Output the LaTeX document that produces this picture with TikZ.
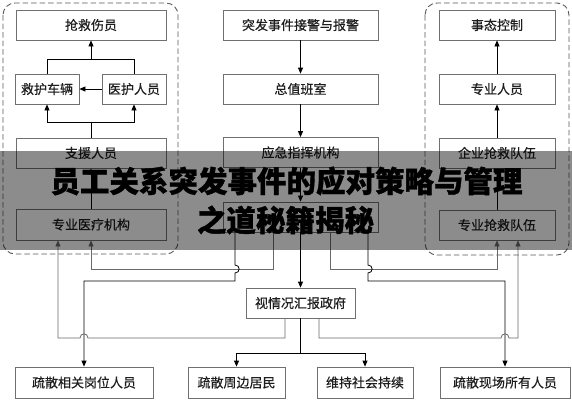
\documentclass[tikz,border=0pt]{standalone}
\usepackage{fontspec}
\setmainfont{Noto Sans CJK SC}
\newfontfamily\titlefont{Noto Sans CJK SC}[BoldFeatures={FakeBold=1.2}]
\newfontfamily\boxfont{Noto Sans CJK SC}[FakeBold=0.4]
\usetikzlibrary{arrows.meta}
\definecolor{boxline}{HTML}{707070}
\definecolor{grayline}{HTML}{6A6A6A}
\definecolor{boxtext}{HTML}{1E1E1E}
\definecolor{frameline}{HTML}{5A5A5A}
\begin{document}
\begin{tikzpicture}[x=1pt,y=-1pt,
  box/.style={draw=boxline, line width=0.8pt, fill=white, inner sep=0pt,
    minimum height=30pt, text=boxtext, font=\boxfont\fontsize{13}{14}\selectfont},
  frame/.style={draw=frameline, line width=0.9pt, dash pattern=on 5.5pt off 3pt, rounded corners=12pt},
  dl/.style={draw=black, line width=0.8pt},
  gl/.style={draw=grayline, line width=0.8pt},
  arr/.style={-{Triangle[length=6pt,width=5pt]}},
  ttl/.style={text=black, font=\titlefont\bfseries\fontsize{29.5}{31}\selectfont, inner sep=0pt}
]
\useasboundingbox (0,0) rectangle (572,400);
\fill[white] (0,0) rectangle (572,400);

% dashed frames
\draw[frame] (3,3) rectangle (178,254);
\draw[frame] (425,3) rectangle (569,255);

% left group
\node[box, minimum width=150pt] (qj) at (91,25) {抢救伤员};
\node[box, minimum width=64pt] (jhcl) at (47,89) {救护车辆};
\node[box, minimum width=64pt] (yhry) at (134,89) {医护人员};
\node[box, minimum width=150pt] (zyry) at (91,153) {支援人员};
\node[box, minimum width=150pt, minimum height=31pt] (zyyl) at (91,224.5) {专业医疗机构};

% center column
\node[box, minimum width=155pt] (tf) at (300.5,25) {突发事件接警与报警};
\node[box, minimum width=155pt] (zzb) at (300.5,89) {总值班室};
\node[box, minimum width=155pt] (yjzh) at (300.5,152.5) {应急指挥机构};
\node[box, minimum width=155pt] (hid) at (300.5,217) {};
\node[box, minimum width=109pt] (sqzf) at (300.5,303) {视情况汇报政府};

% right group
\node[box, minimum width=116pt] (stkz) at (497,25) {事态控制};
\node[box, minimum width=116pt] (zyrr) at (497,89) {专业人员};
\node[box, minimum width=116pt] (qyqj) at (497,153) {企业抢救队伍};
\node[box, minimum width=116pt] (zyqj) at (497,225) {专业抢救队伍};

% bottom row
\node[box, minimum width=138pt, minimum height=31pt] (b1) at (84,382.5) {疏散相关岗位人员};
\node[box, minimum width=97pt, minimum height=31pt] (b2) at (236.5,382.5) {疏散周边居民};
\node[box, minimum width=96pt, minimum height=31pt] (b3) at (365,382.5) {维持社会持续};
\node[box, minimum width=130pt, minimum height=31pt] (b4) at (505,382.5) {疏散现场所有人员};

% left group connectors
\draw[dl] (jhcl.north) -- ++(0,-14) -| (yhry.north);
\coordinate (lt) at (91,60);
\draw[dl,arr] (lt) -- (qj.south);
\draw[dl,arr] (yhry.west) -- (jhcl.east);
\draw[dl] (zyry.north) -- ++(0,-15) coordinate (lb);
\draw[dl,arr] (lb) -| (jhcl.south);
\draw[dl,arr] (lb) -| (yhry.south);
\draw[dl,arr] (zyyl.north) -- (zyry.south);

% center connectors
\draw[dl,arr] (tf.south) -- (zzb.north);
\draw[dl,arr] (zzb.south) -- (yjzh.north);
\draw[dl,arr] (yjzh.south) -- (hid.north);
\draw[dl,arr] (hid.south) -- (sqzf.north);

% right group connectors
\draw[dl,arr] (zyrr.north) -- (stkz.south);
\draw[dl,arr] (qyqj.north) -- (zyrr.south);
\draw[dl,arr] (zyqj.north) -- (qyqj.south);

% from hidden box to left
\draw[gl,arr] ([xshift=-27.5pt]hid.south) -- ++(0,37) -| (zyyl.south);
\draw[dl,arr] ([xshift=-65.5pt]hid.south) -- (235,265) .. controls (240.5,265) and (240.5,273) .. (235,273) -- (235,281) -| (b1.north);
% from hidden box to right
\draw[gl,arr] ([xshift=29.5pt]hid.south) -- ++(0,37) -| (zyqj.south);
\draw[dl,arr] ([xshift=67.5pt]hid.south) -- (368,265) .. controls (373.5,265) and (373.5,273) .. (368,273) -- (368,281) -| (b4.north);

% from government report box
\draw[gl,arr] ([xshift=-15.5pt]sqzf.south) -- (285,338) -- (88,338) .. controls (88,332.5) and (80,332.5) .. (80,338) -| ([xshift=-33pt]zyyl.south);
\draw[gl,arr] ([xshift=18.5pt]sqzf.south) -- (319,338) -- (501,338) .. controls (501,332.5) and (509,332.5) .. (509,338) -| ([xshift=21pt]zyqj.south);
\draw[dl] (sqzf.south) -- ++(0,35) coordinate (m);
\draw[dl,arr] (m) -| (b2.north);
\draw[dl,arr] (m) -| (b3.north);

% banner overlay
\fill[black, opacity=0.45] (0,151) rectangle (572,250);
\node[ttl] (t1) at (286.5,181) {员工关系突发事件的应对策略与管理};
\node[ttl] (t2) at (285.5,220) {之道秘籍揭秘};
\end{tikzpicture}
\end{document}
